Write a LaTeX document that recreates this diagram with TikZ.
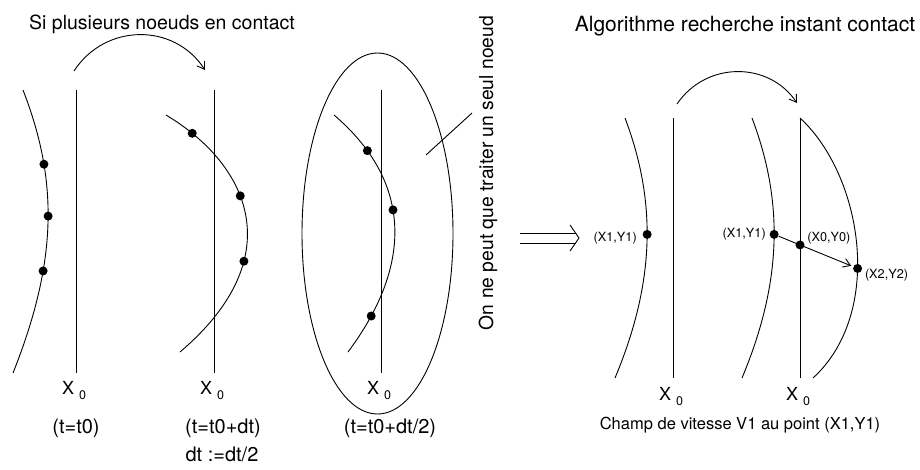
\documentclass[tikz,border=0pt]{standalone}
\usepackage{fontspec}
\setmainfont{TeX Gyre Heros}
\usetikzlibrary{arrows.meta, positioning, shapes.geometric}

\newcommand{\xzero}{X\ \raisebox{-5pt}{\fontsize{12.5}{14}\selectfont 0}}

\begin{document}
\begin{tikzpicture}[
    x=1pt, y=-1pt,
    line width=0.9pt,
    >={Straight Barb[length=7pt, width=9pt]},
    dot/.style={circle, fill, inner sep=0pt, minimum size=9pt},
    ttl/.style={anchor=base, font=\fontsize{19.5}{22}\selectfont},
    tlab/.style={anchor=base, font=\fontsize{20}{22}\selectfont},
    xlab/.style={xshift=-2pt, inner sep=1pt, font=\fontsize{18}{20}\selectfont},
    lbl/.style={inner sep=1pt, font=\fontsize{12.7}{14}\selectfont}]

  \useasboundingbox (0,0) rectangle (920,469);

  % titles
  \node[ttl] (ttlL) at (162,29) {Si plusieurs noeuds en contact};
  \node[ttl, font=\fontsize{21}{24}\selectfont] (ttlR) at (745,31) {Algorithme recherche instant contact};

  % left part: three time steps
  \draw (76,90) -- (76,373) coordinate (l1b);
  \draw (214,90) -- (214,373) coordinate (l2b);
  \draw (381,90) -- (381,373) coordinate (l3b);

  \draw (23,90) .. controls (58,180) and (58,260) ..
    node[dot, pos=.28] (p1a) {} node[dot, pos=.475] (p1b) {} node[dot, pos=.672] (p1c) {} (13,373);
  \draw (166,115) .. controls (251,166) and (290,258.5) ..
    node[dot, pos=.11] (p2a) {} node[dot, pos=.41] (p2b) {} node[dot, pos=.67] (p2c) {} (180,352);
  \draw (334,115) .. controls (410,180) and (415,262) ..
    node[dot, pos=.175] (p3a) {} node[dot, pos=.44] (p3b) {} node[dot, pos=.865] (p3c) {} (348,352);

  % step arrow
  \coordinate (a1s) at (74,71);
  \coordinate (a1e) at (205,70);
  \draw[->] (a1s) .. controls (105,23.3) and (174,22.3) .. (a1e);

  % group of nodes and remark
  \node[draw, ellipse, minimum width=151pt, minimum height=361pt] (grp) at (377.5,233.5) {};
  \node[rotate=90, font=\fontsize{19.3}{22}\selectfont] (note) at (488,173) {On ne peut que traiter un seul noeud};
  \coordinate (ptr) at (426,155);
  \coordinate (ptre) at (472,113);
  \draw (ptr) -- (ptre);

  \foreach \lb in {l1b,l2b,l3b} {
    \node[xlab, below=7pt of \lb] {\xzero};
  }
  \node[tlab] (t1) at (76,433) {(t=t0)};
  \node[tlab] (t2) at (223,433) {(t=t0+dt)};
  \node[tlab] (t2b) at (222,461) {dt :=dt/2};
  \node[tlab] (t3) at (390,433) {(t=t0+dt/2)};

  % implies arrow
  \coordinate (ims) at (520,238);
  \coordinate (ime) at (579,238);
  \draw ([yshift=5pt]ims) -- ([xshift=-3pt, yshift=5pt]ime);
  \draw ([yshift=-5pt]ims) -- ([xshift=-3pt, yshift=-5pt]ime);
  \draw (ime) ++(-9,-13) -- (ime) -- ++(-9,13);

  % right part: contact search
  \draw (673,118) -- (673,378) coordinate (r1b);
  \draw (800,118) coordinate (r2t) -- (800,378) coordinate (r2b);

  \draw (625,118) .. controls (656,200) and (656,280) .. node[dot, pos=.47] (a1) {} (615,378);
  \draw (752,118) .. controls (783,200) and (783,280) .. node[dot, pos=.47] (b1) {} (742,378);
  \draw (r2t) .. controls (862,175) and (885,312) .. node[dot, pos=.58] (c2) {} (813,378);

  \node[dot] (x0) at (intersection of b1--c2 and r2t--r2b) {};
  \draw[->, shorten >=2pt] (b1) -- (c2);

  \node[lbl, left=4pt of a1, yshift=-4pt] {(X1,Y1)};
  \node[lbl, left=2pt of b1] {(X1,Y1)};
  \node[lbl, right=1pt of x0, yshift=7pt] {(X0,Y0)};
  \node[lbl, right=1pt of c2, yshift=-7pt] {(X2,Y2)};

  \coordinate (a2s) at (677,104);
  \coordinate (a2e) at (797,103);
  \draw[->] (a2s) .. controls (705.6,61.6) and (768.4,60.6) .. (a2e);

  \foreach \lb in {r1b,r2b} {
    \node[xlab, below=8pt of \lb] {\xzero};
  }
  \node[anchor=base, font=\fontsize{16.5}{18}\selectfont] (champ) at (740,429) {Champ de vitesse V1 au point (X1,Y1)};
\end{tikzpicture}
\end{document}
